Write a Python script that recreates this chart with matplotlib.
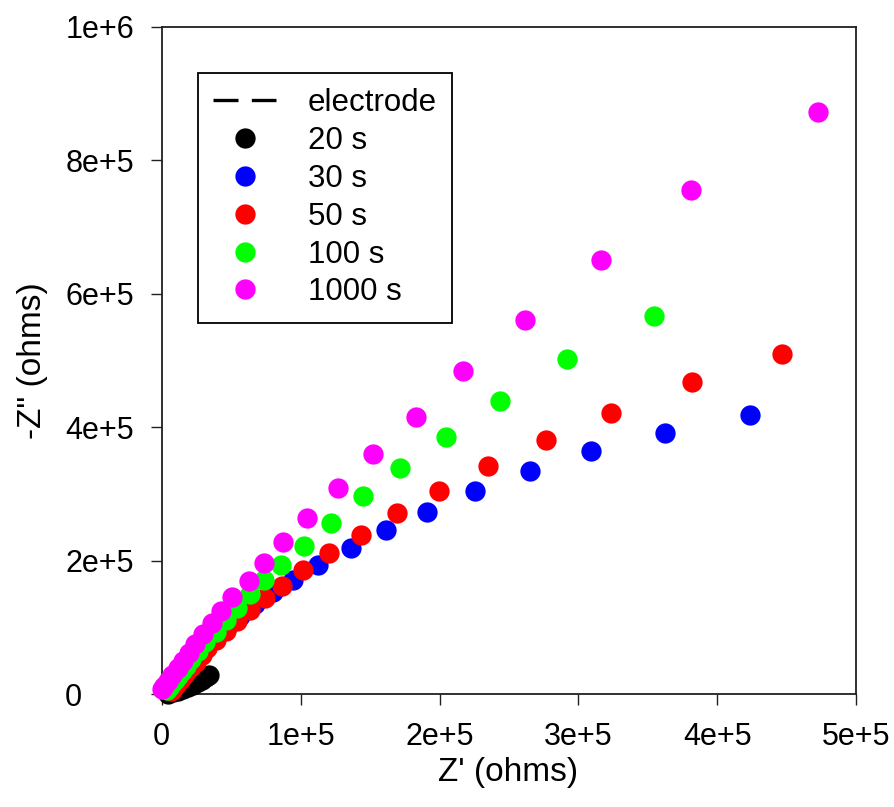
import matplotlib
matplotlib.use('Agg')
import matplotlib.pyplot as plt
from matplotlib.legend_handler import HandlerLine2D

plt.rcParams['font.family'] = ['Liberation Sans', 'DejaVu Sans']

# ---- data (ohms) ----
electrode_x = [0.0, 1.0e3, 2.0e3, 3.0e3, 4.0e3]
electrode_y = [0.0, 2.5e3, 5.0e3, 7.5e3, 10.0e3]

s20_x = [4.5e3, 8.1e3, 11.7e3, 15.3e3, 18.9e3, 22.5e3, 26.1e3, 29.0e3, 31.9e3, 34.1e3]
s20_y = [0.0, 3.0e3, 4.5e3, 7.5e3, 10.5e3, 13.5e3, 18.0e3, 21.0e3, 25.5e3, 28.5e3]

s30_x = [6.7e3, 7.4e3, 8.1e3, 8.9e3, 10.3e3, 11.7e3, 13.9e3, 16.8e3, 19.7e3, 23.3e3,
         27.6e3, 32.6e3, 39.1e3, 47.0e3, 56.4e3, 67.2e3, 80.1e3, 94.5e3, 112.5e3, 136.3e3,
         161.5e3, 191.0e3, 225.6e3, 265.2e3, 309.1e3, 362.4e3, 423.6e3]
s30_y = [4.5e3, 7.5e3, 10.5e3, 13.5e3, 18.0e3, 22.5e3, 28.5e3, 36.0e3, 43.5e3, 52.5e3,
         62.9e3, 73.4e3, 85.4e3, 100.4e3, 116.9e3, 134.9e3, 152.9e3, 170.8e3, 193.3e3, 218.8e3,
         245.8e3, 272.7e3, 304.2e3, 334.2e3, 364.2e3, 391.1e3, 418.1e3]

s50_x = [6.7e3, 7.4e3, 8.1e3, 9.6e3, 11.0e3, 13.2e3, 15.3e3, 17.5e3, 21.1e3, 24.7e3,
         29.0e3, 32.6e3, 39.1e3, 46.3e3, 54.2e3, 63.6e3, 74.4e3, 86.6e3, 101.7e3, 120.5e3,
         143.5e3, 169.4e3, 199.7e3, 234.9e3, 276.7e3, 323.5e3, 381.8e3, 446.6e3]
s50_y = [4.5e3, 6.0e3, 9.0e3, 12.0e3, 16.5e3, 21.0e3, 27.0e3, 33.0e3, 40.5e3, 48.0e3,
         58.4e3, 68.9e3, 80.9e3, 94.4e3, 109.4e3, 125.9e3, 143.9e3, 161.8e3, 185.8e3, 211.3e3,
         238.3e3, 271.2e3, 304.2e3, 341.7e3, 380.6e3, 421.1e3, 467.6e3, 509.5e3]

s100_x = [3.8e3, 4.5e3, 6.0e3, 7.4e3, 9.6e3, 11.7e3, 14.6e3, 17.5e3, 21.1e3, 26.1e3,
          31.2e3, 39.1e3, 46.3e3, 54.2e3, 63.6e3, 73.7e3, 85.9e3, 102.5e3, 121.9e3, 144.9e3,
          171.6e3, 204.7e3, 243.6e3, 291.8e3, 354.5e3]
s100_y = [6.0e3, 9.0e3, 12.0e3, 16.5e3, 21.0e3, 27.0e3, 34.5e3, 42.0e3, 52.5e3, 64.4e3,
          77.9e3, 92.9e3, 110.9e3, 128.9e3, 149.9e3, 170.8e3, 193.3e3, 221.8e3, 256.3e3, 296.7e3,
          338.7e3, 385.1e3, 439.1e3, 502.0e3, 566.5e3]

s1000_x = [0.0, 1.7e3, 4.5e3, 7.4e3, 11.7e3, 15.3e3, 19.7e3, 24.0e3, 29.7e3, 36.2e3,
           42.7e3, 50.6e3, 62.9e3, 73.7e3, 87.3e3, 104.6e3, 126.9e3, 152.1e3, 183.1e3, 216.9e3,
           261.6e3, 316.3e3, 381.1e3, 472.5e3]
s1000_y = [7.5e3, 12.0e3, 19.5e3, 28.5e3, 39.0e3, 49.5e3, 61.4e3, 74.9e3, 89.9e3, 106.4e3,
           124.4e3, 145.4e3, 169.3e3, 196.3e3, 227.8e3, 263.8e3, 308.7e3, 359.7e3, 415.1e3, 484.0e3,
           560.5e3, 650.4e3, 755.3e3, 872.2e3]

series_labels = ['20 s', '30 s', '50 s', '100 s', '1000 s']
series_colors = ['#000000', '#0000ff', '#ff0000', '#00ff00', '#ff00ff']
series_x = [s20_x, s30_x, s50_x, s100_x, s1000_x]
series_y = [s20_y, s30_y, s50_y, s100_y, s1000_y]

xticks = [0, 1e5, 2e5, 3e5, 4e5, 5e5]
xtick_labels = ['0', '1e+5', '2e+5', '3e+5', '4e+5', '5e+5']
yticks = [0, 2e5, 4e5, 6e5, 8e5, 1e6]
ytick_labels = ['0', '2e+5', '4e+5', '6e+5', '8e+5', '1e+6']


class ShiftedMarkerHandler(HandlerLine2D):
    """Marker-only legend entry, drawn a little right of the handle centre."""
    def get_xdata(self, legend, xdescent, ydescent, width, height, fontsize):
        xdata, xdata_marker = super().get_xdata(legend, xdescent, ydescent,
                                                width, height, fontsize)
        return xdata, [x + 4.5 for x in xdata_marker]


# ---- figure ----
W, H = 894, 807
fig = plt.figure(figsize=(W / 100, H / 100), dpi=100)
x0, x1, y0, y1 = 161.7, 856.3, 694.0, 26.7
ax = fig.add_axes([x0 / W, 1 - y0 / H, (x1 - x0) / W, (y0 - y1) / H])

ax.plot(electrode_x, electrode_y, color='black', lw=2.4, dashes=(7.5, 4),
        label='electrode', zorder=1, clip_on=False)
marker_lines = []
for xs, ys, c, lab in zip(series_x, series_y, series_colors, series_labels):
    ln, = ax.plot(xs, ys, 'o', color=c, ms=14.6, mew=0, label=lab, clip_on=False, zorder=3)
    marker_lines.append(ln)

ax.set_xlim(0, 5e5)
ax.set_ylim(0, 1e6)
ax.set_xticks(xticks)
ax.set_xticklabels(xtick_labels)
ax.set_yticks(yticks)
ax.set_yticklabels(ytick_labels)
ax.tick_params(direction='out', length=8, width=1.0, top=False, right=False,
               labelsize=22, color='#202020')
ax.tick_params(axis='x', pad=12)
ax.tick_params(axis='y', pad=61.5)
for lab in ax.get_yticklabels():
    lab.set_ha('left')
for sp in ax.spines.values():
    sp.set_linewidth(1.3)
    sp.set_color('#202020')

ax.set_xlabel("Z' (ohms)", fontsize=24, va='center', ha='center')
ax.xaxis.set_label_coords((508 - x0) / (x1 - x0), (y0 - 772) / (y0 - y1))
ax.set_ylabel('-Z" (ohms)', fontsize=24, va='center', ha='center')
ax.yaxis.set_label_coords((33 - x0) / (x1 - x0), (y0 - 361) / (y0 - y1))

hmap = {ln: ShiftedMarkerHandler(numpoints=1) for ln in marker_lines}
leg = ax.legend(loc='upper left', bbox_to_anchor=(198 / W, 1 - 73 / H),
                bbox_transform=fig.transFigure, frameon=True, fancybox=False,
                edgecolor='black', fontsize=22.5, handlelength=2.0, handletextpad=1.02,
                labelspacing=0.25, borderpad=0.49, borderaxespad=0, framealpha=1,
                numpoints=1, handler_map=hmap)
leg.get_frame().set_linewidth(1.3)

fig.savefig('out.png', dpi=100)
